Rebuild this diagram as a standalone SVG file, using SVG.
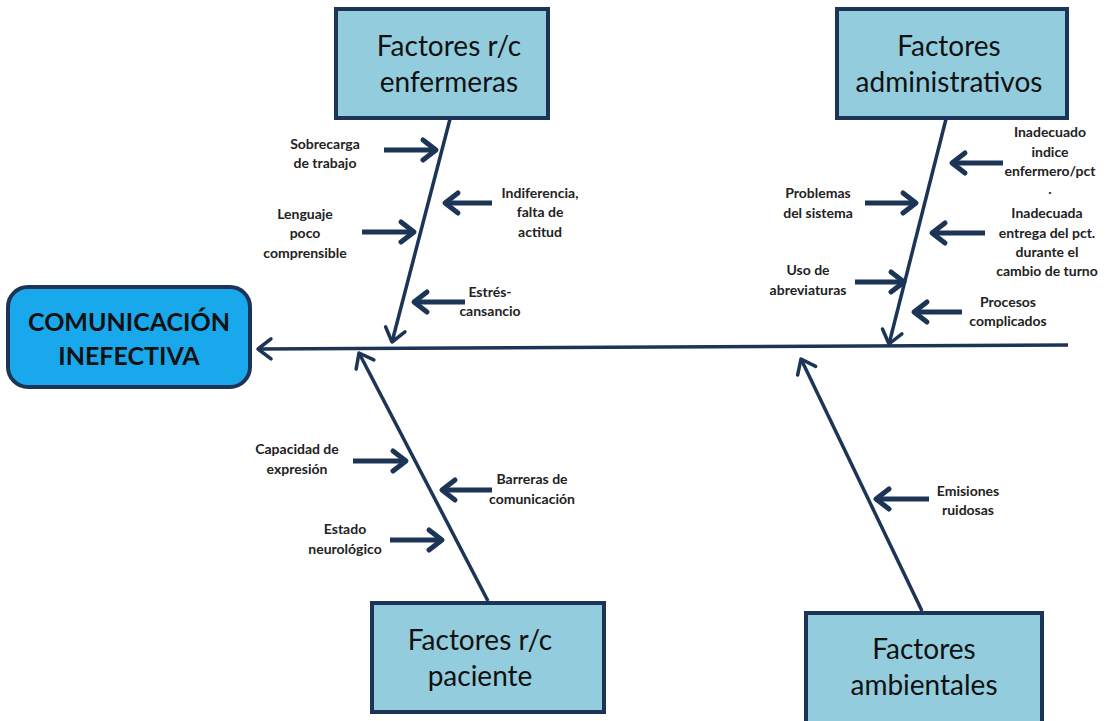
<svg xmlns="http://www.w3.org/2000/svg" width="1110" height="721" viewBox="0 0 1110 721">
<defs>
<style>
.box{fill:#93cddd;stroke:#1c3557;stroke-width:4}
.main{fill:#1aa8ec;stroke:#1c3557;stroke-width:4}
.title{font-family:Lato,"Liberation Sans",sans-serif;font-size:28px;fill:#111;text-anchor:middle}
.mtitle{font-family:Lato,"Liberation Sans",sans-serif;font-size:25px;font-weight:bold;fill:#111;text-anchor:middle}
.lbl{font-family:Lato,"Liberation Sans",sans-serif;font-size:14px;font-weight:bold;fill:#222;text-anchor:middle}
.bone{stroke:#1c3557;stroke-width:3.5;fill:none;marker-end:url(#bh)}
.sa{stroke:#1c3557;stroke-width:5;fill:none;marker-end:url(#sh)}
</style>
<marker id="bh" markerUnits="userSpaceOnUse" viewBox="-20 -15 30 30" markerWidth="30" markerHeight="30" refX="0" refY="0" orient="auto">
<path d="M-13,-10 L0,0 L-13,10" fill="none" stroke="#1c3557" stroke-width="3.5" stroke-linecap="round" stroke-linejoin="round"/>
</marker>
<marker id="sh" markerUnits="userSpaceOnUse" viewBox="-20 -15 30 30" markerWidth="30" markerHeight="30" refX="0" refY="0" orient="auto">
<path d="M-13,-10 L0,0 L-13,10" fill="none" stroke="#1c3557" stroke-width="5" stroke-linecap="round" stroke-linejoin="round"/>
</marker>
</defs>
<rect width="1110" height="721" fill="#fff"/>
<g id="connectors">
<path class="bone" d="M1068,345 L258,349"/>
<path class="bone" d="M450,119 L392,342"/>
<path class="bone" d="M946,119 L889,344"/>
<path class="bone" d="M488,601 L359,353"/>
<path class="bone" d="M922,611 L801,359"/>
<path class="sa" d="M384,150 L436,150"/>
<path class="sa" d="M492,203 L445,203"/>
<path class="sa" d="M362,232 L414,232"/>
<path class="sa" d="M465,302 L414,302"/>
<path class="sa" d="M865,203 L916,203"/>
<path class="sa" d="M1003,163 L952,163"/>
<path class="sa" d="M985,233 L932,233"/>
<path class="sa" d="M855,282 L904,282"/>
<path class="sa" d="M962,312 L914,312"/>
<path class="sa" d="M353,461 L406,461"/>
<path class="sa" d="M492,490 L442,490"/>
<path class="sa" d="M390,540 L442,540"/>
<path class="sa" d="M929,499 L876,499"/>
</g>
<g id="effect">
<rect class="main" x="8" y="287" width="242" height="100" rx="20"/>
<text class="mtitle" x="129" y="331">COMUNICACIÓN</text>
<text class="mtitle" x="129" y="365">INEFECTIVA</text>
</g>
<g id="enfermeras">
<rect class="box" x="336" y="9" width="212" height="109"/>
<text class="title" x="449" y="56">Factores r/c</text>
<text class="title" x="449" y="92">enfermeras</text>
</g>
<g id="administrativos">
<rect class="box" x="837" y="9" width="230" height="109"/>
<text class="title" x="949" y="56">Factores</text>
<text class="title" x="949" y="92">administrativos</text>
</g>
<g id="paciente">
<rect class="box" x="372" y="603" width="232" height="109"/>
<text class="title" x="480" y="650">Factores r/c</text>
<text class="title" x="480" y="686">paciente</text>
</g>
<g id="ambientales">
<rect class="box" x="806" y="613" width="236" height="112"/>
<text class="title" x="924" y="659">Factores</text>
<text class="title" x="924" y="695">ambientales</text>
</g>
<g id="causes">
<text class="lbl" x="325" y="149">Sobrecarga</text>
<text class="lbl" x="325" y="168">de trabajo</text>
<text class="lbl" x="540" y="198">Indiferencia,</text>
<text class="lbl" x="540" y="217">falta de</text>
<text class="lbl" x="540" y="237">actitud</text>
<text class="lbl" x="305" y="219">Lenguaje</text>
<text class="lbl" x="305" y="238">poco</text>
<text class="lbl" x="305" y="258">comprensible</text>
<text class="lbl" x="490" y="297">Estrés-</text>
<text class="lbl" x="490" y="316">cansancio</text>
<text class="lbl" x="818" y="198">Problemas</text>
<text class="lbl" x="818" y="218">del sistema</text>
<text class="lbl" x="1050" y="137">Inadecuado</text>
<text class="lbl" x="1050" y="157">indice</text>
<text class="lbl" x="1050" y="176">enfermero/pct</text>
<text class="lbl" x="1050" y="194">.</text>
<text class="lbl" x="1047" y="218">Inadecuada</text>
<text class="lbl" x="1047" y="238">entrega del pct.</text>
<text class="lbl" x="1047" y="257">durante el</text>
<text class="lbl" x="1047" y="276">cambio de turno</text>
<text class="lbl" x="808" y="275">Uso de</text>
<text class="lbl" x="808" y="295">abreviaturas</text>
<text class="lbl" x="1008" y="307">Procesos</text>
<text class="lbl" x="1008" y="326">complicados</text>
<text class="lbl" x="297" y="454">Capacidad de</text>
<text class="lbl" x="297" y="474">expresión</text>
<text class="lbl" x="532" y="484">Barreras de</text>
<text class="lbl" x="532" y="504">comunicación</text>
<text class="lbl" x="345" y="534">Estado</text>
<text class="lbl" x="345" y="554">neurológico</text>
<text class="lbl" x="968" y="496">Emisiones</text>
<text class="lbl" x="968" y="515">ruidosas</text>
</g>
</svg>
